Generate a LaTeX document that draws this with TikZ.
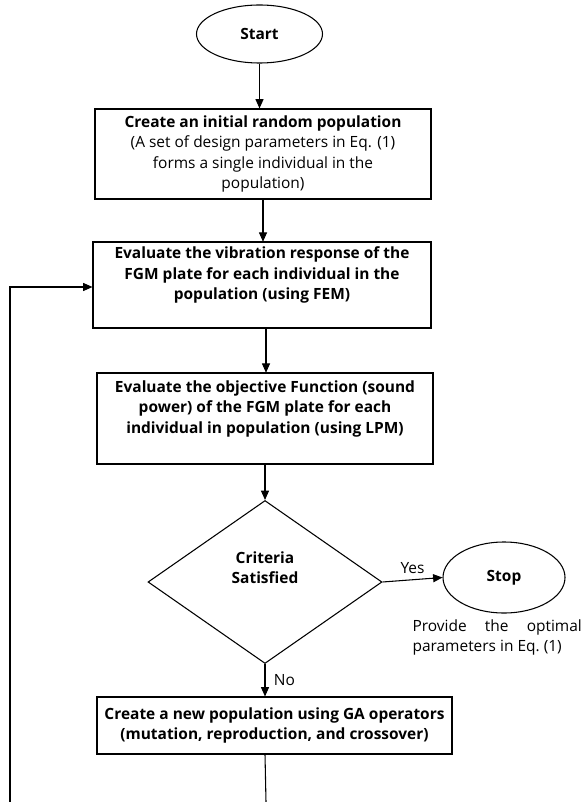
\documentclass[tikz,border=0pt]{standalone}
\usepackage{fontspec}
\setmainfont{Open Sans}
\usetikzlibrary{shapes.geometric, arrows.meta, positioning}

\begin{document}
\begin{tikzpicture}[x=0.75pt, y=-0.75pt, font=\fontsize{11.6}{15.3}\selectfont,
        >={Triangle[length=7pt, width=6pt]}, line width=0.8pt]
    \tikzset{
        term/.style={draw, ellipse, inner sep=0pt, font=\fontsize{11.6}{15.3}\selectfont\bfseries},
        proc/.style={draw, rectangle, align=center, inner sep=2pt},
        decide/.style={draw, diamond, align=center, inner sep=0pt,
            minimum width=175.5pt, minimum height=122.25pt, font=\fontsize{11.6}{15.3}\selectfont\bfseries},
        flow/.style={draw, ->},
    }
    \useasboundingbox (0,0) rectangle (583,802);

    \node[term, minimum width=94.5pt, minimum height=43.5pt] (start) at (259.5,34) {Start};
    \node[proc, minimum width=252pt, minimum height=67.5pt] (init) at (263,154) {
        \textbf{Create an initial random population}\\
        (A set of design parameters in Eq. (1)\\
        forms a single individual in the\\
        population)};
    \node[proc, minimum width=253.5pt, minimum height=64.5pt] (vib) at (262,285) {
        \textbf{Evaluate the vibration response of the}\\
        \textbf{FGM plate for each individual in the}\\
        \textbf{population (using FEM)}\\[2pt]};
    \node[proc, minimum width=252pt, minimum height=68.25pt] (obj) at (265,418.5) {
        \textbf{Evaluate the objective Function (sound}\\
        \textbf{power) of the FGM plate for each}\\
        \textbf{individual in population (using LPM)}\\[2pt]};
    \node[decide] (crit) at (265,582) {Criteria\\Satisfied\\[6pt]};
    \node[term, minimum width=91.5pt, minimum height=53.25pt] (stop) at (504,577.5) {Stop};
    \node[anchor=north west, align=left, inner sep=0pt] (result) at (412,619) {
        \makebox[127pt][s]{Provide the optimal}\\
        parameters in Eq.~(1)};
    \node[proc, minimum width=266.25pt, minimum height=42.75pt] (newpop) at (274.5,725.5) {
        \textbf{Create a new population using GA operators}\\
        \textbf{(mutation, reproduction, and crossover)}};

    \coordinate (down) at (266,802);
    \coordinate (corner) at (10,802);
    \coordinate (back) at (10,287);

    \draw[flow] (start.south) -- (start.south |- init.north);
    \draw[flow] (263,198.75) -- (263,241.75);
    \draw[flow] (266,328) -- (266,372.75);
    \draw[flow] (obj.south -| crit.north) -- (crit.north);
    \draw[flow] (crit.east) -- (stop.west)
        node[midway, above=1pt]{Yes};
    \draw[flow] (crit.south) -- (crit.south |- newpop.north)
        node[midway, right=3pt]{No};
    \draw (newpop.south -| crit.south) -- (down);
    \draw[flow] (corner) -- (back) -- (back -| vib.west);
\end{tikzpicture}
\end{document}
